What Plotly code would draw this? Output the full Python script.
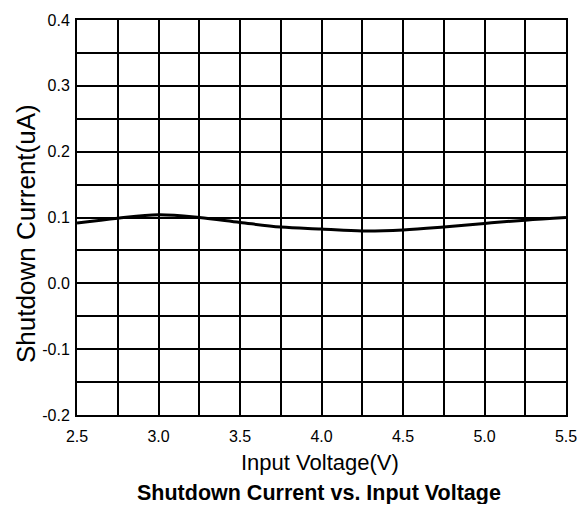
import plotly.graph_objects as go

voltage = [2.5, 2.75, 3.0, 3.25, 3.5, 3.75, 4.0, 4.25, 4.5, 4.75, 5.0, 5.25, 5.5]
current = [0.0915, 0.099, 0.104, 0.1, 0.0925, 0.0855, 0.0825, 0.0795, 0.081, 0.0855, 0.091, 0.096, 0.1]

x_ticks = [2.5, 3.0, 3.5, 4.0, 4.5, 5.0, 5.5]
x_labels = ["2.5", "3.0", "3.5", "4.0", "4.5", "5.0", "5.5"]
y_ticks = [-0.2, -0.1, 0.0, 0.1, 0.2, 0.3, 0.4]
y_labels = ["-0.2", "-0.1", "0.0", "0.1", "0.2", "0.3", "0.4"]

fig = go.Figure()
fig.add_trace(go.Scatter(x=voltage, y=current, mode="lines",
                         line=dict(color="black", width=3, shape="spline"),
                         showlegend=False))

font_family = "Liberation Sans Narrow, Arial Narrow, Liberation Sans, Arial"

fig.update_layout(
    width=577, height=496,
    margin=dict(l=69, r=19, t=12, b=89, autoexpand=False),
    paper_bgcolor="white", plot_bgcolor="white",
    font=dict(family=font_family, color="black", size=16),
    xaxis=dict(range=[2.5, 5.5], tickvals=x_ticks, ticktext=x_labels, automargin=False,
               ticklabeloverflow="allow",
               showgrid=True, gridcolor="black", gridwidth=2,
               minor=dict(dtick=0.25, tick0=2.5, showgrid=True, gridcolor="black", gridwidth=2),
               showline=True, linecolor="black", linewidth=2, mirror=True,
               zeroline=False, ticks="", ticklen=0, ticklabelstandoff=6,
               tickfont=dict(size=16, family=font_family)),
    yaxis=dict(range=[-0.2, 0.4], tickvals=y_ticks, ticktext=y_labels, automargin=False,
               ticklabeloverflow="allow",
               showgrid=True, gridcolor="black", gridwidth=2,
               minor=dict(dtick=0.05, tick0=-0.2, showgrid=True, gridcolor="black", gridwidth=2),
               showline=True, linecolor="black", linewidth=2, mirror=True,
               zeroline=False, ticks="", ticklen=0, ticklabelstandoff=2,
               tickfont=dict(size=16, family=font_family)),
    annotations=[
        dict(text="Shutdown Current(uA)", xref="paper", yref="paper",
             x=-0.1043, y=0.4608, xanchor="center", yanchor="middle", textangle=-90,
             showarrow=False, font=dict(size=26, family=font_family, color="black")),
        dict(text="Input Voltage(V)", xref="paper", yref="paper",
             x=0.497, y=-0.119, xanchor="center", yanchor="middle",
             showarrow=False, font=dict(size=22, family=font_family, color="black")),
        dict(text="<b>Shutdown Current vs. Input Voltage</b>", xref="paper", yref="paper",
             x=0.495, y=-0.198, xanchor="center", yanchor="middle", showarrow=False,
             font=dict(size=21.5, family=font_family, color="black")),
    ]
)

fig.write_html("out.html")
